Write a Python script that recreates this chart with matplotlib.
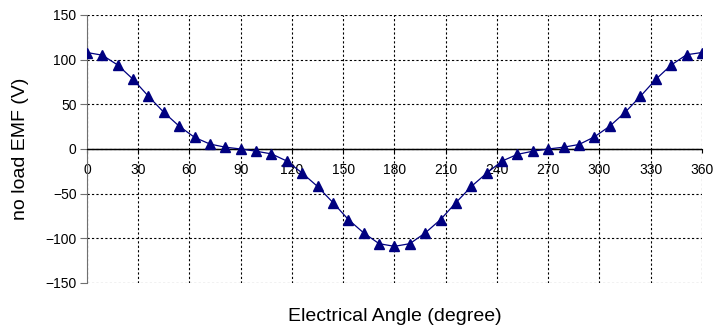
import matplotlib.pyplot as plt
import numpy as np

plt.rcParams['font.family'] = ['Liberation Sans', 'DejaVu Sans']

angle = list(range(0, 361, 9))
emf = [108, 105, 94, 78, 59, 41, 25.5, 13, 5.5, 2, 0,
       -2.5, -5.5, -13.5, -27, -42, -60, -79, -94, -106, -109,
       -106, -94, -79, -60, -42, -27, -13.5, -6, -2.5, 0,
       2, 5, 13.5, 25.5, 41, 59, 78, 94, 105.5, 108]

fig = plt.figure(figsize=(7.17, 3.26), dpi=100)
ax = fig.add_axes([0.1213, 0.132, 0.979 - 0.1213, 0.954 - 0.132])

ax.plot(angle, emf, color='#000080', lw=0.9, marker='^', ms=6.5,
        mfc='#000080', mec='#000080', zorder=3)

ax.set_xlim(0, 360)
ax.set_ylim(-150, 150)
ax.set_xticks(np.arange(0, 361, 30))
ax.set_yticks(np.arange(-150, 151, 50))

ax.grid(True, color='black', ls=(0, (2, 2)), lw=0.8)
ax.axhline(0, color='black', lw=1, zorder=2)

# excel style: x axis crosses at zero
ax.spines['bottom'].set_position(('data', 0))
ax.spines['bottom'].set_color('black')
ax.spines['left'].set_color('#707070')
ax.spines['top'].set_visible(False)
ax.spines['right'].set_visible(False)

ax.tick_params(axis='x', direction='out', length=3, pad=7, labelsize=10)
ax.tick_params(axis='y', direction='out', length=5, pad=2.5, labelsize=10,
               color='#707070')

ax.set_xlabel('Electrical Angle (degree)', fontsize=14)
ax.xaxis.set_label_coords(0.5, -0.093)
ax.set_ylabel('no load EMF (V)', fontsize=14)
ax.yaxis.set_label_coords(-0.095, 0.5)

fig.savefig('out.png', dpi=100)
